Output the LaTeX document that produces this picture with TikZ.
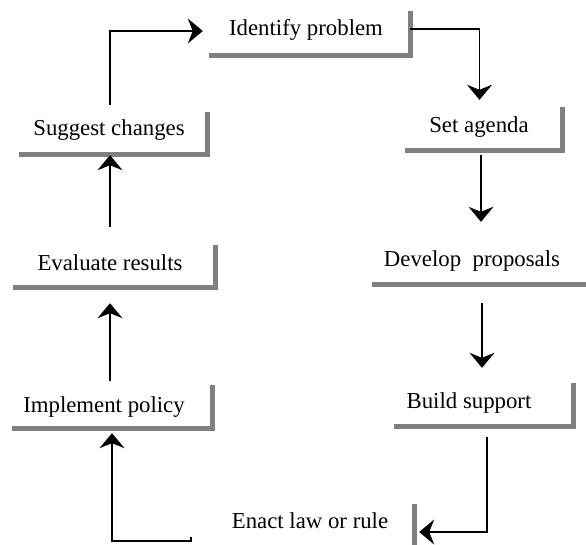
\documentclass[tikz,border=0pt]{standalone}
\usepackage{fontspec}
\setmainfont{Liberation Serif}
\usetikzlibrary{arrows.meta}
\begin{document}
\begin{tikzpicture}[x=1pt,y=-1pt,
  box/.style={rectangle,inner sep=0pt,minimum width=#1,draw=none},
  lbl/.style={inner sep=0pt,anchor=base,font=\fontsize{22.8}{27}\selectfont},
  shade/.style={draw=black!50,line width=5pt},
  conn/.style={draw=black,line width=1.5pt,-{Stealth[length=15pt,width=25pt,inset=5pt]}}]
\useasboundingbox[fill=white] (0,0) rectangle (586,544);
% boxes (only bottom and right edges are drawn)
\node[box=201pt,minimum height=44pt] (idp) at (309.5,33) {};
\node[box=188pt,minimum height=42pt] (sug) at (113,133) {};
\node[box=157pt,minimum height=43pt] (set) at (483.5,128.5) {};
\node[box=220pt,minimum height=48pt] (dev) at (482,260) {};
\node[box=202pt,minimum height=42pt] (eva) at (114,266) {};
\node[box=179pt,minimum height=43pt] (bld) at (483.5,404.5) {};
\node[box=200pt,minimum height=43pt] (imp) at (112,406.5) {};
\node[box=223pt,minimum height=44pt] (ena) at (302.5,526) {};
% texts
\node[lbl] (idpt) at (306,35) {Identify problem};
\node[lbl] (sugt) at (109,135) {Suggest changes};
\node[lbl] (sett) at (479,132) {Set agenda};
\node[lbl] (devt) at (472,266) {Develop\ \ proposals};
\node[lbl] (evat) at (110,270) {Evaluate results};
\node[lbl] (bldt) at (469,408) {Build support};
\node[lbl] (impt) at (104,412) {Implement policy};
\node[lbl] (enat) at (310,528) {Enact law or rule};
% shadow edges
\foreach \b in {idp,sug,set,eva,bld,imp}{
  \draw[shade] (\b.south west) -| (\b.north east);
}
\draw[shade] (dev.south west) -- (dev.south east);
\draw[shade] (ena.north east) -- (ena.south east);
% connectors
\draw[conn] ([xshift=-3pt,yshift=7pt]sug.north) |- ([xshift=-6pt,yshift=2pt]idp.west);
\draw[conn] ([yshift=4pt]idp.east) -| ([xshift=-4pt,yshift=7pt]set.north);
\draw[conn] ([xshift=-2.5pt,yshift=-5pt]set.south) -- ([xshift=-1pt,yshift=14pt]dev.north);
\draw[conn] ([yshift=-19pt]dev.south) -- ([xshift=-1.5pt,yshift=15pt]bld.north);
\draw[conn] ([xshift=3.5pt,yshift=-11pt]bld.south) |- ([xshift=5pt,yshift=-6pt]ena.east);
\draw[conn] ([xshift=-2pt,yshift=4pt]imp.north) -- ([xshift=-4pt,yshift=-16pt]eva.south);
\draw[conn] ([xshift=-4pt,yshift=18pt]eva.north) -- ([xshift=-3pt,yshift=-1pt]sug.south);
\coordinate (enastart) at ([yshift=11pt]ena.south west);
\draw[conn] (enastart) -- ++(0,-4pt) -| ([yshift=-5pt]imp.south);
\end{tikzpicture}
\end{document}
